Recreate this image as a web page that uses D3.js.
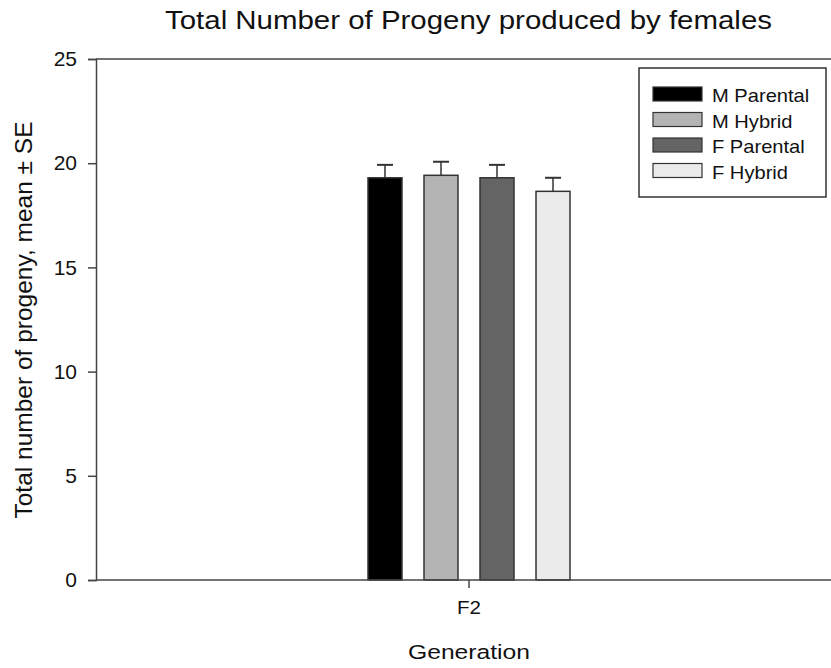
<!DOCTYPE html>
<html lang="en">
<head>
<meta charset="UTF-8">
<title>Total Number of Progeny</title>
<script src="https://d3js.org/d3.v7.min.js"></script>
<style>
  body { margin: 0; background: #fff; }
  text { font-family: Arial, "Liberation Sans", sans-serif; fill: #111; }
</style>
</head>
<body>
<svg></svg>
<script>
const generations = ['F2']
const groups = ['M Parental', 'M Hybrid', 'F Parental', 'F Hybrid']
const means = [19.3, 19.42, 19.3, 18.65]
const errors = [0.62, 0.65, 0.62, 0.65]
const colors = ['#000000', '#b4b4b4', '#646464', '#ebebeb']
const yTicks = [0, 5, 10, 15, 20, 25]

const width = 831, height = 668
const margin = {top: 59, right: 0, bottom: 88, left: 96}

const svg = d3.select('svg')
  .attr('width', width)
  .attr('height', height)

const y = d3.scaleLinear()
  .domain([0, 25])
  .range([height - margin.bottom, margin.top])

const x = d3.scaleBand()
  .domain(generations)
  .range([margin.left, 842])

const x1 = d3.scaleBand()
  .domain(groups)
  .range([-101, 101])
  .paddingInner(0.393)
  .paddingOuter(0)

const axisColor = '#444'

// top frame line
svg.append('line')
  .attr('x1', margin.left).attr('x2', width)
  .attr('y1', y(25)).attr('y2', y(25))
  .attr('stroke', axisColor).attr('stroke-width', 1.5)

// bars
const g = svg.append('g')
  .attr('transform', `translate(${x('F2') + x.bandwidth() / 2},0)`)

g.selectAll('rect')
  .data(groups)
  .join('rect')
  .attr('x', d => x1(d))
  .attr('width', x1.bandwidth())
  .attr('y', (d, i) => y(means[i]))
  .attr('height', (d, i) => y(0) - y(means[i]))
  .attr('fill', (d, i) => colors[i])
  .attr('stroke', '#333')
  .attr('stroke-width', 1.5)

// error bars (upper only)
g.selectAll('line.err')
  .data(groups)
  .join('line')
  .attr('class', 'err')
  .attr('x1', d => x1(d) + x1.bandwidth() / 2)
  .attr('x2', d => x1(d) + x1.bandwidth() / 2)
  .attr('y1', (d, i) => y(means[i]))
  .attr('y2', (d, i) => y(means[i] + errors[i]))
  .attr('stroke', '#333').attr('stroke-width', 1.5)

g.selectAll('line.cap')
  .data(groups)
  .join('line')
  .attr('class', 'cap')
  .attr('x1', d => x1(d) + x1.bandwidth() / 2 - 8)
  .attr('x2', d => x1(d) + x1.bandwidth() / 2 + 8)
  .attr('y1', (d, i) => y(means[i] + errors[i]))
  .attr('y2', (d, i) => y(means[i] + errors[i]))
  .attr('stroke', '#333').attr('stroke-width', 2)

// y axis
const yAxis = svg.append('g')
  .attr('transform', `translate(${margin.left},0)`)
  .call(d3.axisLeft(y).tickValues(yTicks).tickSize(8).tickPadding(11))
yAxis.select('.domain').attr('stroke', axisColor).attr('stroke-width', 1.5)
yAxis.selectAll('.tick line').attr('stroke', axisColor).attr('stroke-width', 1.5)
yAxis.selectAll('.tick text')
  .style('font-size', '21px')
  .style('font-family', 'Arial, "Liberation Sans", sans-serif')
  .attr('fill', '#111')

// x axis
const xAxis = svg.append('g')
  .attr('transform', `translate(0,${y(0)})`)
  .call(d3.axisBottom(x).tickSize(8).tickPadding(13).tickSizeOuter(0))
xAxis.select('.domain').attr('stroke', axisColor).attr('stroke-width', 1.5)
  .attr('d', `M${margin.left},0H${width}`)
xAxis.selectAll('.tick line').attr('stroke', axisColor).attr('stroke-width', 1.5)
xAxis.selectAll('.tick text')
  .style('font-size', '19px')
  .style('font-family', 'Arial, "Liberation Sans", sans-serif')
  .attr('fill', '#111')
  .attr('textLength', 24)
  .attr('lengthAdjust', 'spacingAndGlyphs')

// title and axis labels
svg.append('text')
  .attr('x', 165).attr('y', 29)
  .style('font-size', '25px')
  .attr('textLength', 607)
  .attr('lengthAdjust', 'spacingAndGlyphs')
  .text('Total Number of Progeny produced by females')

svg.append('text')
  .attr('transform', `translate(32,320) rotate(-90)`)
  .attr('text-anchor', 'middle')
  .style('font-size', '24.5px')
  .text('Total number of progeny, mean \u00b1 SE')

svg.append('text')
  .attr('x', 408).attr('y', 659)
  .style('font-size', '20.5px')
  .attr('textLength', 122)
  .attr('lengthAdjust', 'spacingAndGlyphs')
  .text('Generation')

// legend
svg.append('rect')
  .attr('x', 639).attr('y', 68)
  .attr('width', 187).attr('height', 129)
  .attr('fill', '#fff').attr('stroke', '#333').attr('stroke-width', 1.5)

const rows = svg.append('g').selectAll('g')
  .data(groups)
  .join('g')
  .attr('transform', (d, i) => `translate(653,${94 + i * 25.5})`)

rows.append('rect')
  .attr('x', 0).attr('y', -7)
  .attr('width', 49).attr('height', 14)
  .attr('fill', (d, i) => colors[i])
  .attr('stroke', '#333').attr('stroke-width', 1.2)

rows.append('text')
  .attr('transform', 'translate(59,8) scale(1.15,1)')
  .style('font-size', '17.5px')
  .text(d => d)
</script>
</body>
</html>
